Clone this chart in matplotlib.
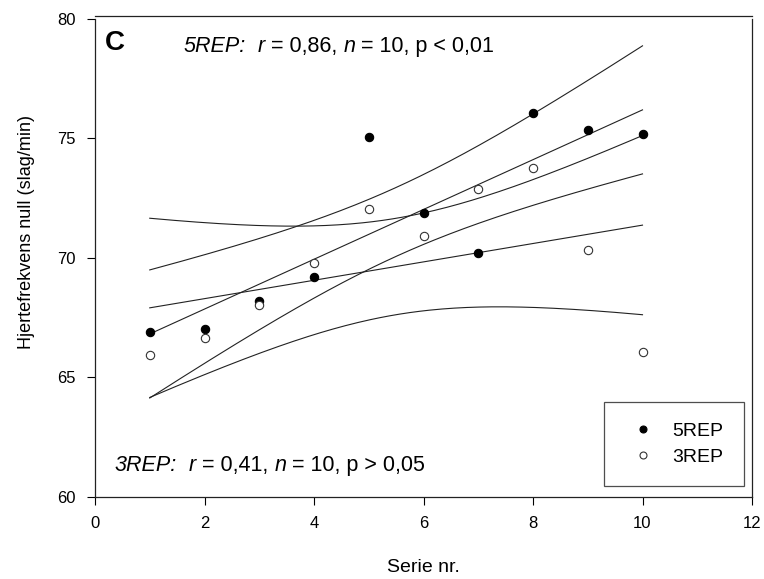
import numpy as np
import matplotlib
matplotlib.use("Agg")
import matplotlib.pyplot as plt
from matplotlib.offsetbox import TextArea, HPacker, AnnotationBbox

plt.rcParams['font.family'] = ['Liberation Sans', 'DejaVu Sans']

serie = [1, 2, 3, 4, 5, 6, 7, 8, 9, 10]
rep5 = [66.9, 67.05, 68.2, 69.2, 75.05, 71.9, 70.2, 76.05, 75.35, 75.2]
rep3 = [65.95, 66.65, 68.05, 69.8, 72.05, 70.9, 72.9, 73.75, 70.35, 66.05]
xticks = [0, 2, 4, 6, 8, 10, 12]
yticks = [60, 65, 70, 75, 80]


def fit_with_ci(x, y, xs, t=2.306):
    x = np.asarray(x, float)
    y = np.asarray(y, float)
    b, a = np.polyfit(x, y, 1)
    n = len(x)
    resid = y - (a + b * x)
    s = np.sqrt(np.sum(resid ** 2) / (n - 2))
    sxx = np.sum((x - x.mean()) ** 2)
    yhat = a + b * xs
    se = s * np.sqrt(1.0 / n + (xs - x.mean()) ** 2 / sxx)
    return yhat, yhat - t * se, yhat + t * se


def stat_label(ax, xy, parts, fs=15.5):
    boxes = []
    for txt, italic in parts:
        boxes.append(TextArea(txt, textprops=dict(fontsize=fs, style='italic' if italic else 'normal',
                                                  color='black')))
    pack = HPacker(children=boxes, align='baseline', pad=0, sep=0)
    ab = AnnotationBbox(pack, xy, xycoords='data', box_alignment=(0, 0.5), frameon=False, pad=0)
    ax.add_artist(ab)


fig = plt.figure(figsize=(7.64, 5.79), dpi=100)
ax = fig.add_axes([95 / 764, 1 - 497 / 579, (752 - 95) / 764, (497 - 19) / 579])

xs = np.linspace(min(serie), max(serie), 200)
lc = '#222222'
for ys in (rep5, rep3):
    yhat, lo, hi = fit_with_ci(serie, ys, xs)
    ax.plot(xs, yhat, color=lc, lw=0.8, zorder=2)
    ax.plot(xs, lo, color=lc, lw=0.8, zorder=2)
    ax.plot(xs, hi, color=lc, lw=0.8, zorder=2)

ax.plot(serie, rep5, 'o', ms=6, mfc='black', mec='black', mew=0.8, zorder=3)
ax.plot(serie, rep3, 'o', ms=6, mfc='white', mec='#333333', mew=0.8, zorder=3)

ax.set_xlim(0, 12)
ax.set_ylim(60, 80)
ax.set_xticks(xticks)
ax.set_yticks(yticks)
ax.tick_params(direction='out', length=6, width=0.8, labelsize=12, top=False, right=False, pad=8)
for sp in ax.spines.values():
    sp.set_linewidth(0.9)
    sp.set_color('#222222')
ax.spines['top'].set_position(('outward', 2.5))
ax.set_xlabel('Serie nr.', fontsize=14, labelpad=20)
ax.set_ylabel('Hjertefrekvens null (slag/min)', fontsize=13)
ax.yaxis.set_label_coords(-0.092, (497 - 232) / 478)

ax.text(0.18, 79.0, 'C', fontsize=20, fontweight='bold', va='center', ha='left')
stat_label(ax, (1.62, 78.85), [('5REP:', True), ('  ', False), ('r', True), (' = 0,86, ', False),
                               ('n', True), (' = 10, p < 0,01', False)])
stat_label(ax, (0.36, 61.3), [('3REP:', True), ('  ', False), ('r', True), (' = 0,41, ', False),
                              ('n', True), (' = 10, p > 0,05', False)])

h1, = ax.plot([], [], 'o', ms=5, mfc='black', mec='black', mew=0.8)
h2, = ax.plot([], [], 'o', ms=5, mfc='white', mec='#333333', mew=0.8)
leg = ax.legend([h1, h2], ['5REP', '3REP'], loc='lower right',
                bbox_to_anchor=((744 - 95) / 657, (497 - 486) / 478),
                fontsize=14, frameon=True, fancybox=False, edgecolor='#222222',
                borderpad=1.05, handletextpad=0.55, borderaxespad=0.0, labelspacing=0.4,
                handlelength=1.93)
leg.get_frame().set_linewidth(0.9)

fig.savefig('out.png', dpi=100)
